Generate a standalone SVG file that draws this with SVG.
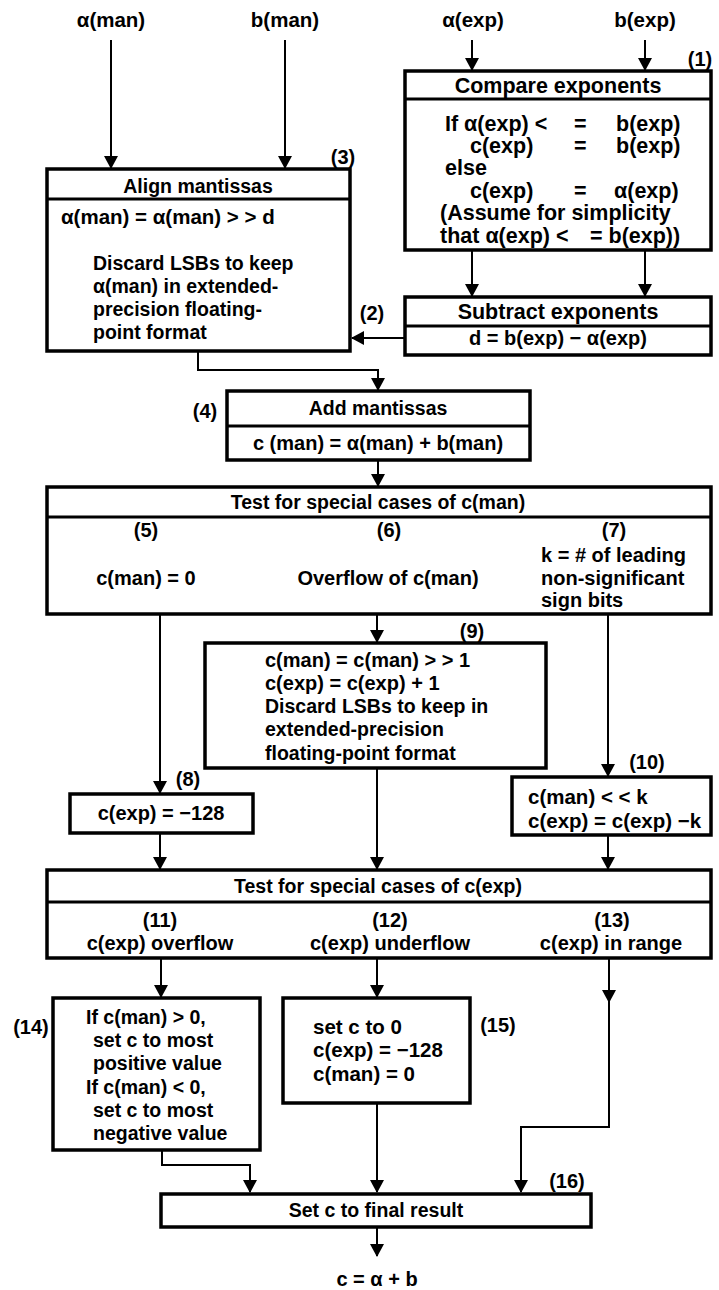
<svg xmlns="http://www.w3.org/2000/svg" width="719" height="1290" viewBox="0 0 719 1290">
<style>
.t{font-family:"Liberation Sans",Arial,Helvetica,sans-serif;font-weight:bold;font-size:20px;fill:#000}
.h{font-size:19.5px}
.l{font-size:21.5px}
.c{text-anchor:middle}
.box{fill:#fff;stroke:#000;stroke-width:3.5}
.dv{stroke:#000;stroke-width:3}
.con{fill:none;stroke:#000;stroke-width:2;marker-end:url(#ah)}
</style>
<defs>
<marker id="ah" markerUnits="userSpaceOnUse" markerWidth="14" markerHeight="14" refX="12" refY="7" orient="auto">
<path d="M0,0 L13,7 L0,14 z" fill="#000"/>
</marker>
</defs>
<rect width="719" height="1290" fill="#fff"/>

<g id="connectors">
<path class="con" d="M111,40 V168"/>
<path class="con" d="M285,40 V168"/>
<path class="con" d="M472,40 V70"/>
<path class="con" d="M645,40 V70"/>
<path class="con" d="M472,250 V296"/>
<path class="con" d="M645,250 V296"/>
<path class="con" d="M405,338 H352"/>
<path class="con" d="M198,351 V370 H378 V390"/>
<path class="con" d="M378,460 V486"/>
<path class="con" d="M160,614 V793"/>
<path class="con" d="M377,614 V642"/>
<path class="con" d="M608,614 V776"/>
<path class="con" d="M160,833 V869"/>
<path class="con" d="M377,768 V869"/>
<path class="con" d="M608,835 V869"/>
<path class="con" d="M161,958 V997"/>
<path class="con" d="M377,958 V997"/>
<path class="con" d="M609,958 V1002"/>
<path class="con" d="M609,1002 V1127 H521 V1192"/>
<path class="con" d="M162,1150 V1165 H250 V1192"/>
<path class="con" d="M377,1103 V1192"/>
<path class="con" d="M377,1227 V1256"/>
</g>

<g id="in-a-man"><text class="t" x="111" y="27" text-anchor="middle" style="font-size:20.5px">α(man)</text></g>
<g id="in-b-man"><text class="t" x="285" y="27" text-anchor="middle" style="font-size:20.5px">b(man)</text></g>
<g id="in-a-exp"><text class="t" x="473" y="27" text-anchor="middle" style="font-size:20.5px">α(exp)</text></g>
<g id="in-b-exp"><text class="t" x="645" y="27" text-anchor="middle" style="font-size:20.5px">b(exp)</text></g>

<g id="n1-compare">
<rect class="box" x="405" y="71" width="306" height="179"/>
<line class="dv" x1="405" y1="99" x2="711" y2="99"/>
<text class="t l c" x="558" y="93">Compare exponents</text>
<text class="t l" x="445" y="131">If α(exp) &lt;</text>
<text class="t l" x="574" y="131">=</text>
<text class="t l" x="616" y="131">b(exp)</text>
<text class="t l" x="470" y="153">c(exp)</text>
<text class="t l" x="574" y="153">=</text>
<text class="t l" x="616" y="153">b(exp)</text>
<text class="t l" x="445" y="175">else</text>
<text class="t l" x="470" y="198">c(exp)</text>
<text class="t l" x="574" y="198">=</text>
<text class="t l" x="614" y="198">α(exp)</text>
<text class="t l" x="440" y="220">(Assume for simplicity</text>
<text class="t l" x="440" y="243">that α(exp) &lt;</text>
<text class="t l" x="590" y="243">= b(exp))</text>
<text class="t c" x="700" y="66">(1)</text>
</g>

<g id="n2-subtract">
<rect class="box" x="405" y="297" width="306" height="58"/>
<line class="dv" x1="405" y1="326" x2="711" y2="326"/>
<text class="t l c" x="558" y="319">Subtract exponents</text>
<text class="t c" x="558" y="345">d = b(exp) − α(exp)</text>
<text class="t c" x="372" y="320">(2)</text>
</g>

<g id="n3-align">
<rect class="box" x="47" y="169" width="303" height="182"/>
<line class="dv" x1="47" y1="199" x2="350" y2="199"/>
<text class="t h c" x="198" y="193">Align mantissas</text>
<text class="t" x="61" y="224" style="font-size:20.5px">α(man) = α(man) &gt; &gt; d</text>
<text class="t h" x="93" y="270">Discard LSBs to keep</text>
<text class="t h" x="93" y="293">α(man) in extended-</text>
<text class="t h" x="93" y="316">precision floating-</text>
<text class="t h" x="93" y="339">point format</text>
<text class="t c" x="343" y="164">(3)</text>
</g>

<g id="n4-add">
<rect class="box" x="227" y="391" width="303" height="69"/>
<line class="dv" x1="227" y1="426" x2="530" y2="426"/>
<text class="t h c" x="378" y="415">Add mantissas</text>
<text class="t c" x="378" y="450">c (man) = α(man) + b(man)</text>
<text class="t c" x="205" y="418">(4)</text>
</g>

<g id="n5-test-man">
<rect class="box" x="47" y="487" width="664" height="127"/>
<line class="dv" x1="47" y1="517" x2="711" y2="517"/>
<text class="t h c" x="378" y="509">Test for special cases of c(man)</text>
<text class="t c" x="146" y="537">(5)</text>
<text class="t c" x="389" y="537">(6)</text>
<text class="t c" x="614" y="537">(7)</text>
<text class="t c" x="146" y="585">c(man) = 0</text>
<text class="t c" x="388" y="585">Overflow of c(man)</text>
<text class="t" x="541" y="562">k = # of leading</text>
<text class="t" x="541" y="585">non-significant</text>
<text class="t" x="541" y="607">sign bits</text>
</g>

<g id="n9-overflow">
<rect class="box" x="205" y="643" width="341" height="125"/>
<text class="t" x="265" y="667">c(man) = c(man) &gt; &gt; 1</text>
<text class="t" x="265" y="690">c(exp) = c(exp) + 1</text>
<text class="t h" x="265" y="713">Discard LSBs to keep in</text>
<text class="t h" x="265" y="736">extended-precision</text>
<text class="t h" x="265" y="760">floating-point format</text>
<text class="t c" x="472" y="638">(9)</text>
</g>

<g id="n8-zero">
<rect class="box" x="70" y="794" width="183" height="39"/>
<text class="t c" x="161" y="820">c(exp) = −128</text>
<text class="t c" x="188" y="786">(8)</text>
</g>

<g id="n10-normalize">
<rect class="box" x="512" y="777" width="199" height="58"/>
<text class="t" x="528" y="804" style="font-size:20.5px">c(man) &lt; &lt; k</text>
<text class="t" x="528" y="828" style="font-size:20.5px">c(exp) = c(exp) −k</text>
<text class="t c" x="647" y="769">(10)</text>
</g>

<g id="n11-test-exp">
<rect class="box" x="47" y="870" width="664" height="88"/>
<line class="dv" x1="47" y1="902" x2="711" y2="902"/>
<text class="t h c" x="378" y="893">Test for special cases of c(exp)</text>
<text class="t c" x="160" y="927">(11)</text>
<text class="t c" x="390" y="927">(12)</text>
<text class="t c" x="612" y="927">(13)</text>
<text class="t c" x="160" y="950">c(exp) overflow</text>
<text class="t c" x="390" y="950">c(exp) underflow</text>
<text class="t c" x="611" y="950">c(exp) in range</text>
</g>

<g id="n14-saturate">
<rect class="box" x="53" y="998" width="207" height="152"/>
<text class="t h" x="86" y="1024">If c(man) &gt; 0,</text>
<text class="t h" x="93" y="1047">set c to most</text>
<text class="t h" x="93" y="1070">positive value</text>
<text class="t h" x="86" y="1094">If c(man) &lt; 0,</text>
<text class="t h" x="93" y="1117">set c to most</text>
<text class="t h" x="93" y="1140">negative value</text>
<text class="t c" x="31" y="1034">(14)</text>
</g>

<g id="n15-underflow">
<rect class="box" x="283" y="998" width="187" height="105"/>
<text class="t" x="313" y="1034" style="font-size:20.5px">set c to 0</text>
<text class="t" x="313" y="1057" style="font-size:20.5px">c(exp) = −128</text>
<text class="t" x="313" y="1081" style="font-size:20.5px">c(man) = 0</text>
<text class="t c" x="498" y="1032">(15)</text>
</g>

<g id="n16-result">
<rect class="box" x="161" y="1194" width="430" height="33"/>
<text class="t h c" x="376" y="1217">Set c to final result</text>
<text class="t c" x="567" y="1188">(16)</text>
</g>

<g id="out-c"><text class="t c" x="377" y="1286">c = α + b</text></g>
</svg>
